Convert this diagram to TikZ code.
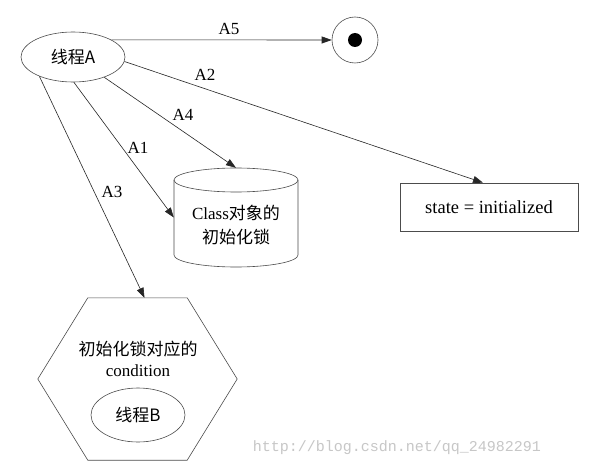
\documentclass[tikz,border=0pt]{standalone}
\usepackage{fontspec}
\setmainfont{Liberation Serif}
\newfontfamily\cjk{Noto Sans CJK SC}
\newfontfamily\wmfont{Liberation Mono}
\usetikzlibrary{arrows.meta,shapes.geometric}

\begin{document}
\begin{tikzpicture}[x=1pt,y=-1pt,
  every node/.style={font=\fontsize{17}{20}\selectfont, inner sep=0pt},
  edge/.style={draw=black!85, line width=0.6pt, -{Triangle[length=10pt,width=7pt]}},
  shapeline/.style={draw=black!70, line width=0.6pt},
  lbl/.style={font=\fontsize{17}{20}\selectfont},
]
\useasboundingbox[fill=white] (0,0) rectangle (603,468);

% nodes
\node[shapeline, ellipse, minimum width=104pt, minimum height=50pt] (A) at (73,57) {\cjk{线程}A};
\node[shapeline, circle, minimum size=46pt] (fin) at (355,40) {};
\node[circle, fill=black, minimum size=14pt] (dot) at (fin.center) {};
\node[shapeline, rectangle, minimum width=178pt, minimum height=48pt, font=\fontsize{18.5}{20}\selectfont] (st) at (489,207) {state = initialized};

% cylinder
\node[minimum width=124pt, minimum height=99pt] (cyl) at (236,217.5) {};
\draw[shapeline] (236,180) ellipse [x radius=62, y radius=12];
\draw[shapeline] (174,180) -- (174,255) arc[start angle=180, end angle=0, x radius=62, y radius=12] -- (298,180);
\node[align=center, font=\fontsize{17}{24}\selectfont] (cyltext) at (236,225) {Class\cjk{对象的}\\\cjk{初始化锁}};

% hexagon
\node[minimum width=199pt, minimum height=162pt] (hex) at (137.5,379) {};
\draw[shapeline] ([xshift=50pt]hex.north west) -- ([xshift=-50pt]hex.north east) -- (hex.east)
  -- ([xshift=-50pt]hex.south east) -- ([xshift=50pt]hex.south west) -- (hex.west) -- cycle;
\node[align=center, font=\fontsize{17}{21}\selectfont] (hextext) at (138,358.5) {\cjk{初始化锁对应的}\\condition};
\node[shapeline, ellipse, minimum width=94pt, minimum height=54pt] (B) at (138,415) {\cjk{线程}B};

% connectors
\draw[edge] (A.24) -- (fin);
\draw[edge] (A.-5) -- ([xshift=-6pt]st.north);
\draw[edge] (A.-33) -- (cyl.north);
\draw[edge] (A.-88) -- (cyl.west);
\draw[edge] (A.-150) -- ([xshift=7pt]hex.north);

% labels
\node[lbl] (lA5) at (229,29) {A5};
\node[lbl] (lA2) at (205,75) {A2};
\node[lbl] (lA4) at (183,115) {A4};
\node[lbl] (lA1) at (138,148) {A1};
\node[lbl] (lA3) at (112,192) {A3};

% watermark
\node[font=\wmfont\fontsize{15}{15}\selectfont, text=black!22] (wm) at (397,448) {http://blog.csdn.net/qq\_24982291};
\end{tikzpicture}
\end{document}
